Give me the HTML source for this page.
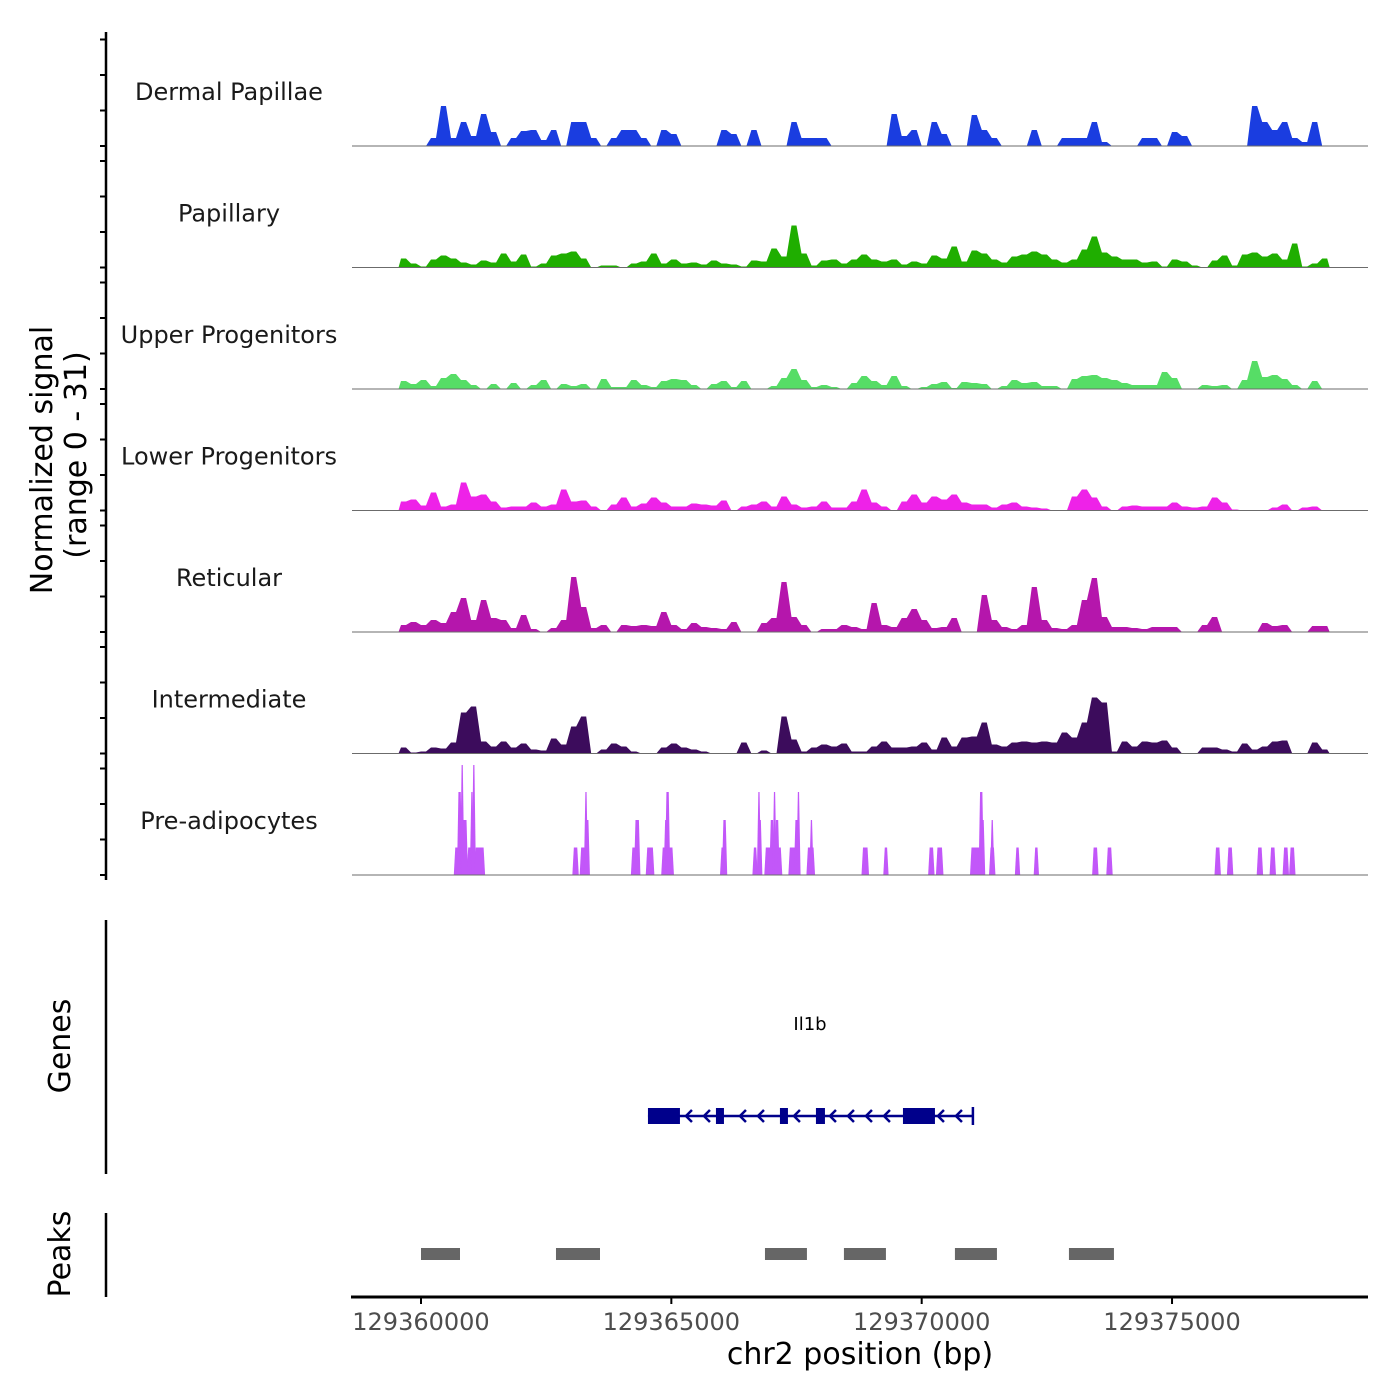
<!DOCTYPE html>
<html><head><meta charset="utf-8"><style>
html,body{margin:0;padding:0;background:#fff;}
svg{display:block;font-family:"DejaVu Sans","Liberation Sans",sans-serif;}
</style></head><body>
<svg id="chart" width="1400" height="1400" viewBox="0 0 1400 1400" xmlns="http://www.w3.org/2000/svg">
<rect x="0" y="0" width="1400" height="1400" fill="#fff"/>
<g id="tracks"></g>
<g id="labels"></g>
<g id="genes"></g>
<g id="peaks"></g>
<g id="axes"></g>
<text transform="translate(52,460) rotate(-90)" text-anchor="middle" font-size="30" fill="#000">Normalized signal</text>
<text transform="translate(86,455) rotate(-90)" text-anchor="middle" font-size="30" fill="#000">(range 0 - 31)</text>
<text transform="translate(70,1046) rotate(-90)" text-anchor="middle" font-size="30" fill="#000">Genes</text>
<text transform="translate(70,1254) rotate(-90)" text-anchor="middle" font-size="30" fill="#000">Peaks</text>
<text x="860" y="1364" text-anchor="middle" font-size="30" fill="#000">chr2 position (bp)</text>
</svg>
<script>
// ---- data ----
const trackNames = ["Dermal Papillae","Papillary","Upper Progenitors","Lower Progenitors","Reticular","Intermediate","Pre-adipocytes"];
const trackColors = ["#1a3de0","#1fae00","#56dd66","#ee22e8","#b516ac","#3c0c5c","#c257f9"];
const binStart = 129359550;
const binWidth = 200;
const rawScale = 0.2817; // raw count -> normalized signal
const dermalPapillae = [0,0,0,8,40,8,24,10,32,14,0,8,15,16,6,16,0,24,24,8,0,8,16,16,8,0,16,12,0,0,0,0,16,12,0,16,0,0,0,24,8,8,8,0,0,0,0,0,0,32,10,16,0,24,12,0,0,31,16,8,0,0,0,16,0,0,8,8,8,24,4,0,0,0,8,8,0,14,10,0,0,0,0,0,0,40,24,16,24,8,4,24,0];
const papillary = [9,4,1,8,12,9,5,3,7,5,14,6,13,1,4,12,14,16,9,0,2,2,0,4,6,14,4,8,4,5,3,7,4,3,1,7,6,19,11,42,14,2,7,8,4,8,13,8,6,8,3,6,4,12,9,21,6,17,14,8,5,11,13,16,13,8,5,8,18,31,15,11,8,8,5,6,1,8,6,2,0,7,12,2,13,15,11,14,8,24,1,4,9];
const upperProgenitors = [8,5,9,3,11,15,9,4,0,5,0,6,0,4,9,0,5,3,5,0,10,2,2,9,4,2,8,10,9,4,0,5,8,2,8,0,0,3,11,20,9,2,4,2,0,6,13,8,4,13,3,0,2,5,7,1,7,6,5,0,3,9,6,7,3,3,0,10,13,14,11,9,6,4,4,4,17,11,0,0,4,3,4,0,9,28,12,14,10,4,0,8,0];
const lowerProgenitors = [9,11,5,18,4,6,28,14,16,9,3,4,4,8,4,6,21,9,10,4,0,6,13,4,7,13,8,4,4,7,6,5,10,0,4,6,9,4,14,6,3,4,9,3,3,9,21,8,4,0,9,16,8,14,11,16,8,6,6,3,6,8,4,3,2,0,0,14,21,13,4,0,4,5,4,4,4,8,4,3,4,13,8,1,0,0,0,3,6,0,3,4,0];
const reticular = [7,10,7,12,9,20,34,12,32,14,12,4,17,3,0,4,12,55,25,4,7,0,7,6,7,6,20,7,3,9,5,4,3,10,0,0,9,14,50,15,7,0,3,3,7,5,3,29,7,5,14,23,12,4,5,14,0,0,37,12,5,3,7,45,12,4,3,7,32,54,15,5,5,4,3,5,5,5,0,0,7,15,0,0,0,0,9,6,7,0,0,6,6];
const intermediate = [6,1,2,6,5,11,41,47,12,7,12,6,10,4,3,15,9,27,37,0,4,10,7,2,0,0,6,10,6,4,2,0,0,0,11,0,3,0,37,14,2,6,9,7,10,2,2,7,12,6,6,7,11,4,16,7,16,17,31,9,7,11,12,11,12,11,21,16,31,56,51,2,12,7,12,11,13,6,0,0,6,6,4,2,10,4,7,12,13,0,0,11,4];
const preAdipCenters = [129360719,129360771,129360823,129360875,129360977,129361017,129361055,129361172,129363087,129363255,129363295,129363321,129364278,129364318,129364575,129364873,129364899,129364925,129364977,129366025,129366063,129366672,129366750,129366776,129366932,129367009,129367061,129367111,129367163,129367423,129367501,129367539,129367784,129367798,129368873,129369286,129370193,129370360,129371073,129371189,129371227,129371409,129371409,129371914,129372290,129373468,129373751,129375912,129376160,129376755,129377012,129377272,129377402];
const preAdipWidths = [52,39,26,52,52,26,26,104,52,78,26,39,78,52,78,65,39,39,65,39,39,39,26,26,65,39,26,39,39,78,39,26,78,26,65,39,52,65,104,39,26,52,26,39,39,52,52,52,52,52,52,52,52];
const preAdipRaw = [27.5,83,110,55,27.5,83,110,27.5,27.5,27.5,83,55,27.5,55,27.5,27.5,55,83,27.5,27.5,55,27.5,83,55,27.5,55,83,55,27.5,27.5,55,83,27.5,55,27.5,27.5,27.5,27.5,27.5,83,55,27.5,55,27.5,27.5,27.5,27.5,27.5,27.5,27.5,27.5,27.5,27.5];
const geneName = "Il1b";
const geneStart = 129364533, geneEnd = 129371023;
const exonStarts = [129364533,129365891,129367169,129367888,129369626];
const exonEnds = [129365172,129366051,129367329,129368068,129370265];
const peakStarts = [129360000,129362696,129366870,129368447,129370664,129372941];
const peakEnds = [129360779,129363575,129367708,129369286,129371503,129373840];
const xTicks = [129360000,129365000,129370000,129375000];
const yTickValues = [0,10,20,30];

// ---- scales ----
const NS="http://www.w3.org/2000/svg";
const xMin=129358622, xMax=129378914, pxL=352, pxR=1368;
function xs(bp){return pxL+(bp-xMin)/(xMax-xMin)*(pxR-pxL);}
const base0=146, trackStep=121.5, pxPerUnit=3.55;
function ys(t,v){return base0+t*trackStep - v*pxPerUnit;}
function el(tag,attrs,parent){const e=document.createElementNS(NS,tag);for(const k in attrs)e.setAttribute(k,attrs[k]);parent.appendChild(e);return e;}

const gT=document.getElementById('tracks'), gL=document.getElementById('labels');
const series=[dermalPapillae,papillary,upperProgenitors,lowerProgenitors,reticular,intermediate];
series.forEach((arr,t)=>{
  let pts=[[xs(binStart),ys(t,0)]];
  arr.forEach((r,i)=>{
    const a=xs(binStart+binWidth*i), b=xs(binStart+binWidth*(i+1)), y=ys(t,r*rawScale);
    pts.push([a+2.5,y]); pts.push([b-2.5,y]);
  });
  pts.push([xs(binStart+binWidth*arr.length),ys(t,0)]);
  const p=el('polygon',{points:pts.map(q=>q[0].toFixed(1)+','+q[1].toFixed(1)).join(' '),fill:trackColors[t]},gT);
  
  
});
// pre-adipocytes spikes
preAdipCenters.forEach((c,i)=>{
  const v=preAdipRaw[i]*rawScale, w=preAdipWidths[i]*1.7;
  const x0=xs(c-w/2), x1=xs(c+w/2), y0=ys(6,0), y1=ys(6,v);
  const p=el('polygon',{points:`${x0-1},${y0} ${x0+0.5},${y1} ${x1-0.5},${y1} ${x1+1},${y0}`,fill:trackColors[6]},gT);
  
  
});
trackNames.forEach((n,t)=>{
  const l=el('line',{x1:pxL,x2:pxR,y1:ys(t,0),y2:ys(t,0),stroke:'#6b6b6b','stroke-width':1},gT);
  
  
  const tx=el('text',{x:229,y:base0+t*trackStep-46,'text-anchor':'middle','font-size':24,fill:'#1a1a1a'},gL);
  tx.textContent=n;
  
  
});

// axes
const gA=document.getElementById('axes');
function line(x1,y1,x2,y2,w,name){const l=el('line',{x1,y1,x2,y2,stroke:'#000','stroke-width':w},gA);return l;}
line(106,32,106,880,2.5,'y-axis-line');
for(let t=0;t<7;t++){yTickValues.forEach(v=>{line(100,ys(t,v),106,ys(t,v),2,'y-tick');});}
line(106,920,106,1174,2.5,'genes-axis-line');
line(106,1213,106,1297,2.5,'peaks-axis-line');
line(351,1297,1368,1297,3,'x-axis-line');
xTicks.forEach(b=>{
  line(xs(b),1297,xs(b),1304,2,'x-tick');
  const t=el('text',{x:xs(b),y:1330,'text-anchor':'middle','font-size':24,fill:'#4d4d4d'},gA);
  t.textContent=String(b);
  
  
});

// genes
const gG=document.getElementById('genes');
const gy=1116, gc='#00008b';
const gl=el('line',{x1:xs(geneStart),x2:xs(geneEnd),y1:gy,y2:gy,stroke:gc,'stroke-width':2.5},gG);


const endBar=el('line',{x1:xs(geneEnd),x2:xs(geneEnd),y1:gy-9,y2:gy+9,stroke:gc,'stroke-width':2.5},gG);


for(let x=xs(geneStart)+40;x<xs(geneEnd)-4;x+=18){
  const inEx=exonStarts.some((s,i)=>x>xs(s)-7&&x<xs(exonEnds[i])+3);
  if(inEx)continue;
  const a=el('polyline',{points:`${x+4},${gy-6} ${x-2},${gy} ${x+4},${gy+6}`,fill:'none',stroke:gc,'stroke-width':2.5},gG);
  
  
}
exonStarts.forEach((s,i)=>{
  const r=el('rect',{x:xs(s),y:gy-8,width:xs(exonEnds[i])-xs(s),height:16,fill:gc},gG);
  
  
});
const gn=el('text',{x:810,y:1030,'text-anchor':'middle','font-size':18,fill:'#000'},gG);
gn.textContent=geneName;



// peaks
const gP=document.getElementById('peaks');
peakStarts.forEach((s,i)=>{
  const r=el('rect',{x:xs(s),y:1248,width:xs(peakEnds[i])-xs(s),height:12,fill:'#666'},gP);
  
  
});
</script>
</body></html>
